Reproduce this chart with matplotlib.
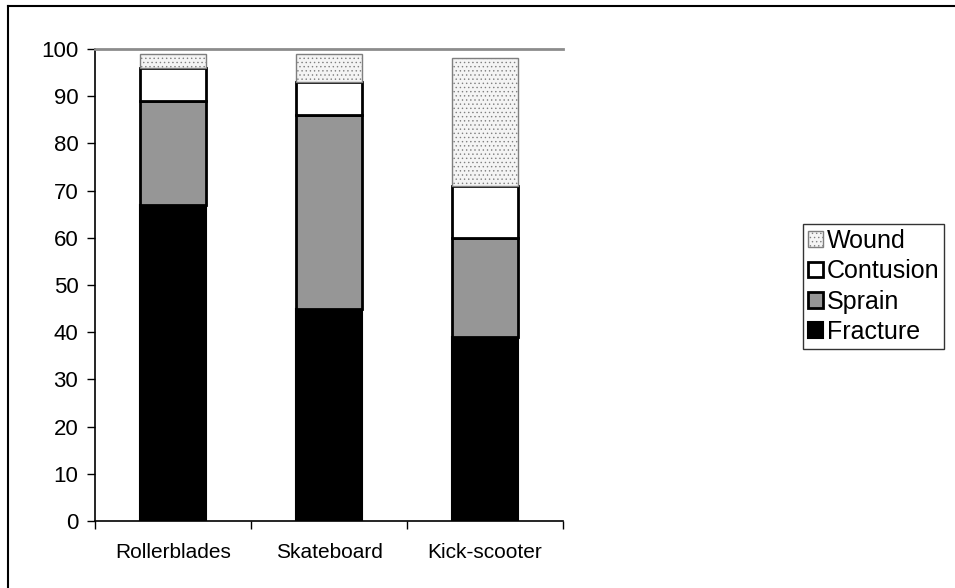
import numpy as np
import matplotlib
matplotlib.use('Agg')
import matplotlib.pyplot as plt
from matplotlib.lines import Line2D
from matplotlib.ticker import FixedLocator

plt.rcParams['font.family'] = ['Liberation Sans', 'DejaVu Sans']

vehicles = ['Rollerblades', 'Skateboard', 'Kick-scooter']
fracture = [67, 45, 39]
sprain = [22, 41, 21]
contusion = [7, 7, 11]
wound = [3, 6, 27]

series = [
    ('Fracture', fracture, dict(color='black', edgecolor='black', linewidth=1.5)),
    ('Sprain', sprain, dict(color='#969696', edgecolor='black', linewidth=2)),
    ('Contusion', contusion, dict(color='white', edgecolor='black', linewidth=2)),
    ('Wound', wound, dict(color='#f4f4f4', edgecolor='#7f7f7f', linewidth=1,
                          hatch='....')),
]

plt.rcParams['hatch.color'] = '#dcdcdc'
plt.rcParams['hatch.linewidth'] = 0.5

fig = plt.figure(figsize=(9.55, 5.88), dpi=100)
ax = fig.add_axes([95 / 955, 1 - 521 / 588, (563 - 95) / 955, (521 - 49) / 588])

x = np.arange(len(vehicles))
bottom = np.zeros(len(vehicles))
handles = []
for name, vals, style in series:
    bars = ax.bar(x, vals, 0.42, bottom=bottom, label=name, zorder=2, **style)
    bottom += np.array(vals)
    handles.append(bars)

ax.set_xlim(-0.5, len(vehicles) - 0.5)
ax.set_ylim(0, 100)
ax.set_yticks(range(0, 101, 10))
ax.set_xticks(x)
ax.set_xticklabels(vehicles, fontsize=15)
ax.xaxis.set_minor_locator(FixedLocator(np.arange(-0.5, len(vehicles), 1.0)))
ax.tick_params(axis='x', which='major', length=0, pad=16)
ax.tick_params(axis='x', which='minor', length=6, width=1, direction='out')
ax.tick_params(axis='y', length=6, width=1, labelsize=16, pad=6)

ax.spines['right'].set_visible(False)
ax.spines['top'].set_color('#8c8c8c')
ax.spines['top'].set_linewidth(2)
for s in ('left', 'bottom'):
    ax.spines[s].set_linewidth(1.2)

leg = fig.legend(handles[::-1], [s[0] for s in series][::-1],
                 loc='upper left', bbox_to_anchor=(803 / 955, 1 - 224 / 588),
                 fontsize=18, frameon=True, fancybox=False, borderpad=0.2,
                 handlelength=0.6, handleheight=0.6, handletextpad=0.15,
                 labelspacing=0.25, borderaxespad=0)
leg.get_frame().set_edgecolor('black')
leg.get_frame().set_linewidth(1)

# outer frame (left and top edges)
fig.add_artist(Line2D([7.5 / 955, 7.5 / 955], [0, 1 - 6 / 588], color='black',
                      linewidth=1.5, transform=fig.transFigure))
fig.add_artist(Line2D([7.5 / 955, 1], [1 - 6 / 588, 1 - 6 / 588], color='black',
                      linewidth=1.5, transform=fig.transFigure))

fig.savefig('out.png', dpi=100)
